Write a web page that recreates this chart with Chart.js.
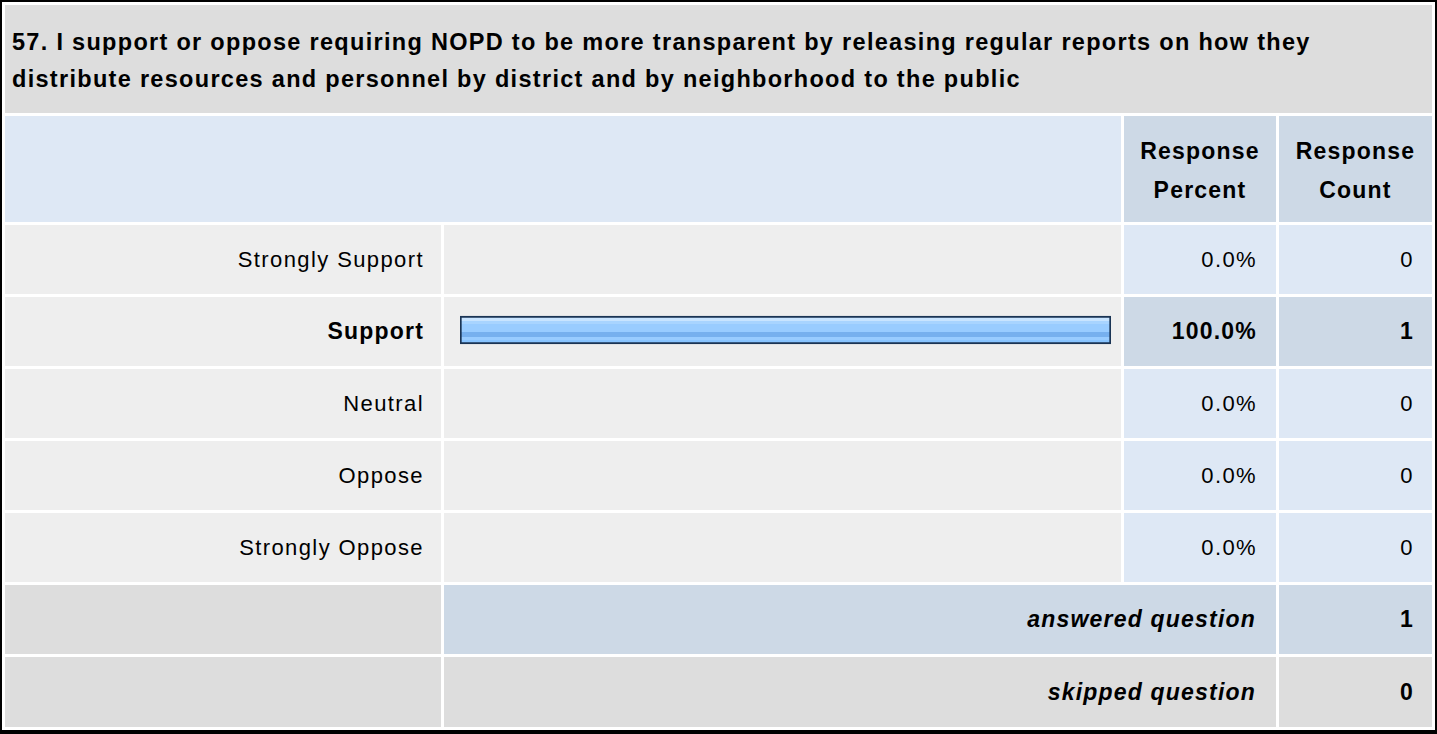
<!DOCTYPE html>
<html>
<head>
<meta charset="utf-8">
<script src="https://cdn.jsdelivr.net/npm/chart.js@4"></script>
<style>
  body { margin: 0; background: #fff; font-family: "Liberation Sans", Arial, sans-serif; }
  #survey {
    position: relative;
    width: 1437px; height: 734px; box-sizing: border-box;
    border: 2px solid #000; border-bottom-width: 4px;
    padding: 3px; background: #fff;
    display: grid;
    grid-template-columns: 436px 677px 152px 153px;
    grid-template-rows: 108px 106px 69px 69px 69px 69px 69px 69px 70px;
    gap: 3px;
    font-size: 22px; letter-spacing: 1.4px; color: #000;
  }
  .c { display: flex; align-items: center; box-sizing: border-box; }
  .r { justify-content: flex-end; text-align: right; }
  .m { justify-content: center; text-align: center; }
  .gray { background: #dddddd; }
  .light { background: #eeeeee; }
  .blue { background: #dee8f5; }
  .dblue { background: #cdd9e6; }
  .b { font-weight: bold; font-size: 23px; letter-spacing: 1.2px; }
  .bi { font-weight: bold; font-style: italic; font-size: 23px; letter-spacing: 1.2px; }
  #title { grid-column: 1 / 5; padding-left: 7px; padding-top: 3px; font-weight: bold; font-size: 23.5px; letter-spacing: 1.3px; line-height: 37px; }
  #chartBox { position: absolute; left: 442px; top: 220px; width: 677px; height: 360px; }
</style>
</head>
<body>
<div id="survey"></div>

<script>
const questionTitle = "57. I support or oppose requiring NOPD to be more transparent by releasing regular reports on how they|distribute resources and personnel by district and by neighborhood to the public";
const headerLabels = ["Response Percent", "Response Count"];
const categories = ["Strongly Support", "Support", "Neutral", "Oppose", "Strongly Oppose"];
const percents = [0, 100, 0, 0, 0];
const counts = [0, 1, 0, 0, 0];
const answered = 1;
const skipped = 0;

const box = document.getElementById('survey');

function cell(html, cls, extra) {
    const d = document.createElement('div');
    d.className = 'c ' + cls;
    d.innerHTML = html;
    if (extra) Object.assign(d.style, extra);
    box.appendChild(d);
    return d;
}

// title row
const t = cell(questionTitle.split('|').join('<br>'), 'gray');
t.id = 'title';

// header row
cell('', 'blue', { gridColumn: '1 / 3' });
cell(headerLabels[0].replace(' ', '<br>'), 'dblue m b', { lineHeight: '39px', paddingTop: '4px' });
cell(headerLabels[1].replace(' ', '<br>'), 'dblue m b', { lineHeight: '39px', paddingTop: '4px' });

// answer rows
const maxVal = Math.max(...percents);
for (let i = 0; i < categories.length; i++) {
    const top = percents[i] === maxVal && maxVal > 0;
    cell(categories[i], 'light r' + (top ? ' b' : ''), { paddingRight: '17px' });
    cell('', 'light');
    cell(percents[i].toFixed(1) + '%', (top ? 'dblue b' : 'blue') + ' r', { paddingRight: '19px' });
    cell(String(counts[i]), (top ? 'dblue b' : 'blue') + ' r', { paddingRight: '18px' });
}

// footer rows
cell('', 'gray');
cell('answered question', 'dblue r bi', { gridColumn: '2 / 4', paddingRight: '20px' });
cell(String(answered), 'dblue r b', { paddingRight: '18px' });
cell('', 'gray');
cell('skipped question', 'gray r bi', { gridColumn: '2 / 4', paddingRight: '20px' });
cell(String(skipped), 'gray r b', { paddingRight: '18px' });

// bar chart on top of the bar column
const chartBox = document.createElement('div');
chartBox.id = 'chartBox';
chartBox.innerHTML = '<canvas id="myChart" width="677" height="360"></canvas>';
box.appendChild(chartBox);

const ctx = document.getElementById('myChart').getContext('2d');

function barFill(c) {
    const chart = c.chart;
    if (!chart.chartArea || !chart.scales || !chart.scales.y || c.dataIndex === undefined) return '#99ccff';
    const mid = chart.scales.y.getPixelForValue(c.dataIndex);
    if (!isFinite(mid)) return '#99ccff';
    const y0 = mid - 14, h = 28;
    const g = chart.ctx.createLinearGradient(0, y0, 0, y0 + h);
    const stops = [
        [0, '#c8e4ff'], [5 / 28, '#c8e4ff'], [5 / 28, '#a8d4ff'], [8 / 28, '#a8d4ff'],
        [8 / 28, '#99ccff'], [16 / 28, '#99ccff'], [16 / 28, '#77b0ee'], [21 / 28, '#77b0ee'],
        [21 / 28, '#99ccff'], [24 / 28, '#99ccff'], [24 / 28, '#88c4ff'], [1, '#88c4ff']
    ];
    stops.forEach(s => g.addColorStop(s[0], s[1]));
    return g;
}

const myChart = new Chart(ctx, {
    type: 'bar',
    data: {
        labels: categories,
        datasets: [{
            data: percents,
            backgroundColor: barFill,
            borderColor: '#1a3454',
            borderWidth: 2,
            borderSkipped: false,
            barThickness: 28
        }]
    },
    options: {
        indexAxis: 'y',
        responsive: false,
        animation: false,
        layout: { padding: { left: 16, right: 10, top: 0, bottom: 0 } },
        plugins: { legend: { display: false }, tooltip: { enabled: false } },
        scales: {
            x: { display: false, min: 0, max: 100 },
            y: { display: false }
        }
    }
});
myChart.update();
</script>
</body>
</html>
